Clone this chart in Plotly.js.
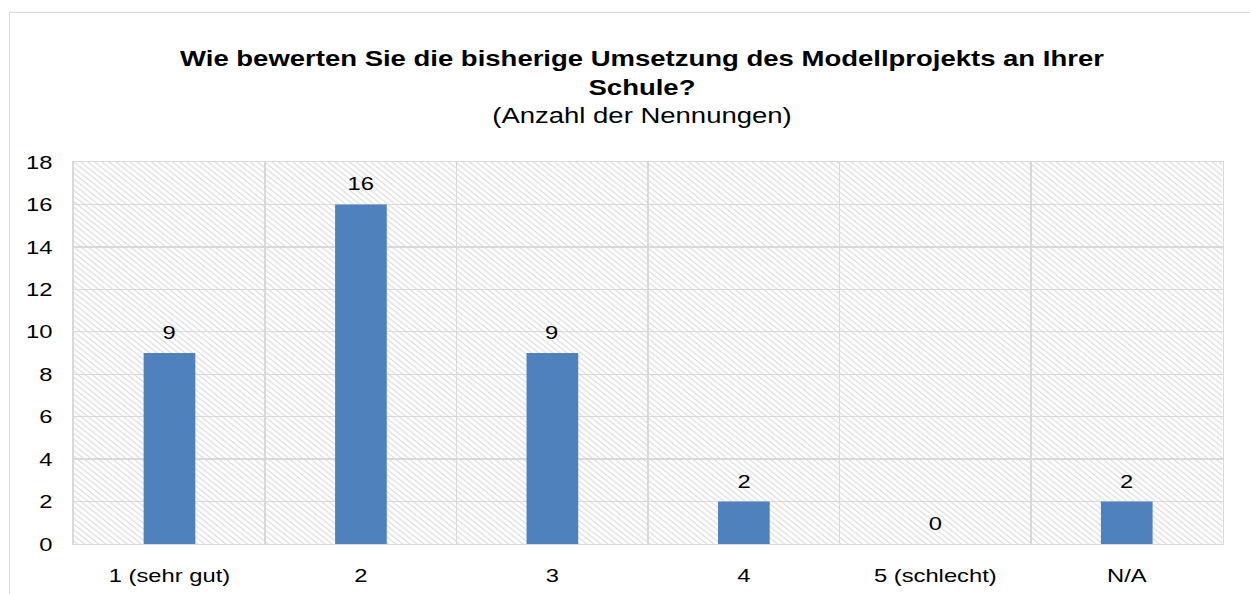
<!DOCTYPE html>
<html>
<head>
<meta charset="utf-8">
<script src="https://cdn.plot.ly/plotly-3.0.1.min.js"></script>
<style>
  html, body { margin: 0; padding: 0; background: #ffffff; }
  #wrap { position: relative; width: 1250px; height: 594px; overflow: hidden; background: #ffffff; }
  #frame { position: absolute; left: 9px; top: 12px; right: -2px; bottom: -2px;
           border-left: 1px solid #d9d9d9; border-top: 1px solid #d9d9d9; pointer-events: none; }
  #chart { position: absolute; left: 0; top: 0; width: 1000px; height: 594px;
           transform: scaleX(1.25); transform-origin: 0 0; }
</style>
</head>
<body>
<div id="wrap">
  <div id="chart"></div>
  <div id="frame"></div>
</div>
<script>
// ---- data ----
const categories = ['1 (sehr gut)', '2', '3', '4', '5 (schlecht)', 'N/A'];
const counts = [9, 16, 9, 2, 0, 2];
const yMax = 18;
const yStep = 2;
const titleMain = 'Wie bewerten Sie die bisherige Umsetzung des Modellprojekts an Ihrer<br>Schule?';
const titleSub = '(Anzahl der Nennungen)';

// ---- styles ----
const FONT = 'Liberation Sans, Arial, sans-serif';
const BLUE = '#4f81bd';
const GRID = '#d9d9d9';

const hatch = {
  type: 'bar',
  x: categories,
  y: categories.map(() => yMax),
  width: 1,
  marker: {
    color: 'rgba(0,0,0,0)',
    line: { width: 0 },
    pattern: { shape: '\\', fgcolor: '#d6d6d6', size: 4, solidity: 0.22 }
  },
  hoverinfo: 'skip',
  showlegend: false
};

const bars = {
  type: 'bar',
  x: categories,
  y: counts,
  width: 0.27,
  marker: { color: BLUE, line: { width: 0 } },
  showlegend: false
};

// category positions by index so numeric-looking labels are not misread
const annotations = categories.map((c, i) => ({
  x: i, y: counts[i], xref: 'x', yref: 'y',
  text: String(counts[i]),
  showarrow: false,
  yanchor: 'bottom',
  yshift: 8,
  font: { family: FONT, size: 19, color: '#000000' }
}));

const layout = {
  width: 1000,
  height: 594,
  margin: { l: 59.2, r: 22.4, t: 162, b: 50, pad: 0 },
  paper_bgcolor: 'rgba(0,0,0,0)',
  plot_bgcolor: '#ffffff',
  barmode: 'overlay',
  font: { family: FONT, color: '#000000' },
  title: {
    text: '<b>' + titleMain + '</b><br>' + titleSub,
    font: { family: FONT, size: 22, color: '#000000' },
    xref: 'container', x: 0.5136, xanchor: 'center',
    yref: 'container', y: 0.889, yanchor: 'top'
  },
  xaxis: {
    type: 'category',
    range: [-0.5, categories.length - 0.5],
    tickson: 'boundaries',
    showgrid: true, gridcolor: GRID, gridwidth: 1.3,
    showline: true, linecolor: GRID, linewidth: 1.3, mirror: true,
    ticks: '',
    ticklabelstandoff: 14,
    tickfont: { family: FONT, size: 19, color: '#000000' },
    zeroline: false,
    fixedrange: true
  },
  yaxis: {
    range: [0, yMax],
    dtick: yStep,
    tick0: 0,
    showgrid: true, gridcolor: GRID, gridwidth: 1.3,
    showline: true, linecolor: GRID, linewidth: 1.3, mirror: true,
    ticks: '',
    ticklabelstandoff: 12,
    tickfont: { family: FONT, size: 19, color: '#000000' },
    zeroline: false,
    fixedrange: true
  },
  annotations: annotations
};

Plotly.newPlot('chart', [hatch, bars], layout, { displayModeBar: false, staticPlot: true });
</script>
</body>
</html>
